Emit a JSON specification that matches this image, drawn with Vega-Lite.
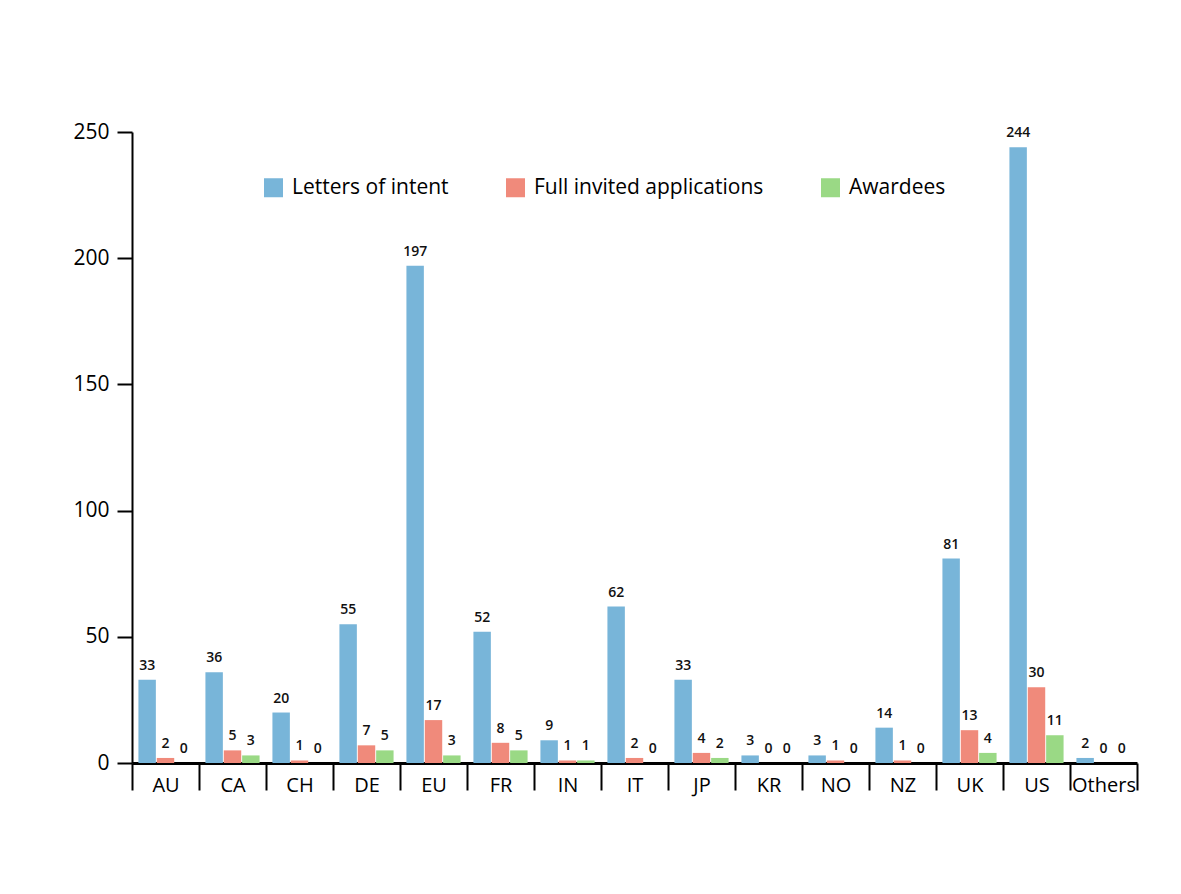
{
  "$schema": "https://vega.github.io/schema/vega-lite/v6.json",
  "autosize": "none",
  "width": 1005,
  "height": 631,
  "padding": {"left": 132, "top": 132, "right": 44, "bottom": 131},
  "background": "white",
  "config": {
    "font": "Open Sans",
    "view": {"stroke": null},
    "axis": {"labelFont": "Open Sans", "labelColor": "#000", "grid": false}
  },
  "data": {
    "values": [
      {"country": "AU", "series": "Letters of intent", "value": 33},
      {"country": "AU", "series": "Full invited applications", "value": 2},
      {"country": "AU", "series": "Awardees", "value": 0},
      {"country": "CA", "series": "Letters of intent", "value": 36},
      {"country": "CA", "series": "Full invited applications", "value": 5},
      {"country": "CA", "series": "Awardees", "value": 3},
      {"country": "CH", "series": "Letters of intent", "value": 20},
      {"country": "CH", "series": "Full invited applications", "value": 1},
      {"country": "CH", "series": "Awardees", "value": 0},
      {"country": "DE", "series": "Letters of intent", "value": 55},
      {"country": "DE", "series": "Full invited applications", "value": 7},
      {"country": "DE", "series": "Awardees", "value": 5},
      {"country": "EU", "series": "Letters of intent", "value": 197},
      {"country": "EU", "series": "Full invited applications", "value": 17},
      {"country": "EU", "series": "Awardees", "value": 3},
      {"country": "FR", "series": "Letters of intent", "value": 52},
      {"country": "FR", "series": "Full invited applications", "value": 8},
      {"country": "FR", "series": "Awardees", "value": 5},
      {"country": "IN", "series": "Letters of intent", "value": 9},
      {"country": "IN", "series": "Full invited applications", "value": 1},
      {"country": "IN", "series": "Awardees", "value": 1},
      {"country": "IT", "series": "Letters of intent", "value": 62},
      {"country": "IT", "series": "Full invited applications", "value": 2},
      {"country": "IT", "series": "Awardees", "value": 0},
      {"country": "JP", "series": "Letters of intent", "value": 33},
      {"country": "JP", "series": "Full invited applications", "value": 4},
      {"country": "JP", "series": "Awardees", "value": 2},
      {"country": "KR", "series": "Letters of intent", "value": 3},
      {"country": "KR", "series": "Full invited applications", "value": 0},
      {"country": "KR", "series": "Awardees", "value": 0},
      {"country": "NO", "series": "Letters of intent", "value": 3},
      {"country": "NO", "series": "Full invited applications", "value": 1},
      {"country": "NO", "series": "Awardees", "value": 0},
      {"country": "NZ", "series": "Letters of intent", "value": 14},
      {"country": "NZ", "series": "Full invited applications", "value": 1},
      {"country": "NZ", "series": "Awardees", "value": 0},
      {"country": "UK", "series": "Letters of intent", "value": 81},
      {"country": "UK", "series": "Full invited applications", "value": 13},
      {"country": "UK", "series": "Awardees", "value": 4},
      {"country": "US", "series": "Letters of intent", "value": 244},
      {"country": "US", "series": "Full invited applications", "value": 30},
      {"country": "US", "series": "Awardees", "value": 11},
      {"country": "Others", "series": "Letters of intent", "value": 2},
      {"country": "Others", "series": "Full invited applications", "value": 0},
      {"country": "Others", "series": "Awardees", "value": 0}
    ]
  },
  "encoding": {
    "x": {
      "field": "country",
      "type": "nominal",
      "sort": null,
      "scale": {"paddingInner": 0, "paddingOuter": 0},
      "axis": {
        "title": null,
        "labelAngle": 0,
        "labelFontSize": 20,
        "tickBand": "extent",
        "tickSize": 27,
        "tickWidth": 2,
        "tickColor": "#000",
        "domainColor": "#000",
        "domainWidth": 3,
        "labelPadding": -15
      }
    },
    "xOffset": {
      "field": "series",
      "type": "nominal",
      "sort": ["Letters of intent", "Full invited applications", "Awardees"],
      "scale": {"paddingInner": 0.05, "paddingOuter": 0.35}
    },
    "y": {
      "field": "value",
      "type": "quantitative",
      "scale": {"domain": [0, 250], "nice": false},
      "axis": {
        "title": null,
        "values": [0, 50, 100, 150, 200, 250],
        "labelFontSize": 21,
        "tickSize": 15,
        "tickWidth": 2,
        "tickColor": "#000",
        "domainColor": "#000",
        "domainWidth": 2,
        "labelPadding": 8
      }
    }
  },
  "layer": [
    {
      "mark": {"type": "bar"},
      "encoding": {
        "color": {
          "field": "series",
          "type": "nominal",
          "scale": {
            "domain": ["Letters of intent", "Full invited applications", "Awardees"],
            "range": ["#78b5d9", "#f08a7b", "#9ad985"]
          },
          "legend": {
            "title": null,
            "orient": "none",
            "legendX": 131,
            "legendY": 45,
            "direction": "horizontal",
            "symbolType": "square",
            "symbolSize": 361,
            "symbolStrokeWidth": 0,
            "labelFontSize": 21,
            "labelFont": "Open Sans",
            "labelColor": "#000",
            "labelLimit": 0,
            "labelOffset": 8,
            "columnPadding": 56
          }
        }
      }
    },
    {
      "mark": {"type": "text", "baseline": "alphabetic", "dy": -10, "fontSize": 14, "fontWeight": 600, "color": "#111"},
      "encoding": {
        "text": {"field": "value", "type": "quantitative"}
      }
    }
  ]
}
